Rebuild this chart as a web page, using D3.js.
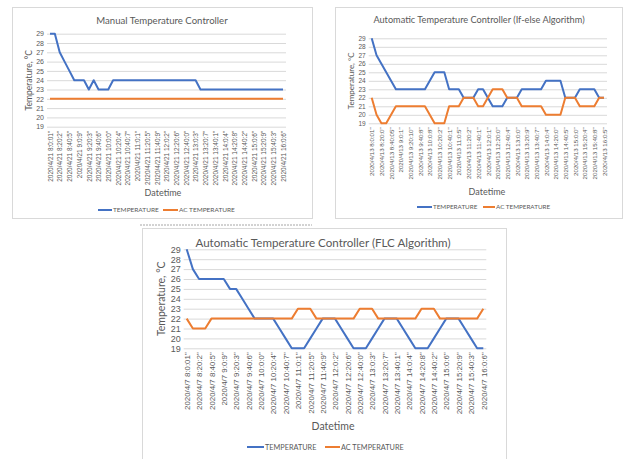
<!DOCTYPE html>
<html>
<head>
<meta charset="utf-8">
<script src="https://cdn.jsdelivr.net/npm/d3@7"></script>
<style>
  body { margin: 0; background: #fff; }
  svg { display: block; font-family: Lato, "Open Sans", sans-serif; }
  .axis text { fill: #595959; }
  .axis .domain { display: none; }
</style>
</head>
<body>
<svg id="chart" width="623" height="459"></svg>
<script>
// y range shared by all three charts
const yTicks = [19, 20, 21, 22, 23, 24, 25, 26, 27, 28, 29];

// manual controller, 2020/4/21
const manualLabels = [
  '2020/4/21 8:0:01"', '2020/4/21 8:20:2"', '2020/4/21 8:40:5"', '2020/4/21 9:0:9"',
  '2020/4/21 9:20:3"', '2020/4/21 9:40:6"', '2020/4/21 10:0:0"', '2020/4/21 10:20:4"',
  '2020/4/21 10:40:7"', '2020/4/21 11:0:1"', '2020/4/21 11:20:5"', '2020/4/21 11:40:9"',
  '2020/4/21 12:0:2"', '2020/4/21 12:20:6"', '2020/4/21 12:40:0"', '2020/4/21 13:0:3"',
  '2020/4/21 13:20:7"', '2020/4/21 13:40:1"', '2020/4/21 14:0:4"', '2020/4/21 14:20:8"',
  '2020/4/21 14:40:2"', '2020/4/21 15:0:6"', '2020/4/21 15:20:9"', '2020/4/21 15:40:3"',
  '2020/4/21 16:0:6"'
];
const manualTemp = [
  29, 29, 27, 26, 25, 24, 24, 24, 23, 24, 23, 23, 23, 24, 24, 24, 24,
  24, 24, 24, 24, 24, 24, 24, 24, 24, 24, 24, 24, 24, 24, 23, 23,
  23, 23, 23, 23, 23, 23, 23, 23, 23, 23, 23, 23, 23, 23, 23, 23
];
const manualAc = [
  22, 22, 22, 22, 22, 22, 22, 22, 22, 22, 22, 22, 22, 22, 22, 22, 22,
  22, 22, 22, 22, 22, 22, 22, 22, 22, 22, 22, 22, 22, 22, 22, 22,
  22, 22, 22, 22, 22, 22, 22, 22, 22, 22, 22, 22, 22, 22, 22, 22
];

// if-else controller, 2020/4/13
const ifelseLabels = [
  '2020/4/13 8:0:01"', '2020/4/13 8:20:0"', '2020/4/13 8:40:05"', '2020/4/13 9:0:1"',
  '2020/4/13 9:20:10"', '2020/4/13 9:40:8"', '2020/4/13 10:0:8"', '2020/4/13 10:20:2"',
  '2020/4/13 10:40:1"', '2020/4/13 11:0:5"', '2020/4/13 11:20:2"', '2020/4/13 11:40:1"',
  '2020/4/13 12:0:1"', '2020/4/13 12:20:0"', '2020/4/13 12:40:4"', '2020/4/13 13:0:0"',
  '2020/4/13 13:20:9"', '2020/4/13 13:40:7"', '2020/4/13 14:0:4"', '2020/4/13 14:20:0"',
  '2020/4/13 14:40:5"', '2020/4/13 15:0:0"', '2020/4/13 15:20:4"', '2020/4/13 15:40:8"',
  '2020/4/13 16:0:5"'
];
const ifelseTemp = [
  29, 27, 26, 25, 24, 23, 23, 23, 23, 23, 23, 23, 24, 25, 25, 25, 23,
  23, 23, 22, 22, 22, 23, 23, 22, 21, 21, 21, 22, 22, 22, 23, 23,
  23, 23, 23, 24, 24, 24, 24, 22, 22, 22, 23, 23, 23, 23, 22, 22
];
const ifelseAc = [
  22, 20, 19, 19, 20, 21, 21, 21, 21, 21, 21, 21, 20, 19, 19, 19, 21,
  21, 21, 22, 22, 22, 21, 21, 22, 23, 23, 23, 22, 22, 22, 21, 21,
  21, 21, 21, 20, 20, 20, 20, 22, 22, 22, 21, 21, 21, 21, 22, 22
];

// FLC controller, 2020/4/7
const flcLabels = [
  '2020/4/7 8:0:01"', '2020/4/7 8:20:2"', '2020/4/7 8:40:5"', '2020/4/7 9:0:9"',
  '2020/4/7 9:20:3"', '2020/4/7 9:40:6"', '2020/4/7 10:0:0"', '2020/4/7 10:20:4"',
  '2020/4/7 10:40:7"', '2020/4/7 11:0:1"', '2020/4/7 11:20:5"', '2020/4/7 11:40:9"',
  '2020/4/7 12:0:2"', '2020/4/7 12:20:6"', '2020/4/7 12:40:0"', '2020/4/7 13:0:3"',
  '2020/4/7 13:20:7"', '2020/4/7 13:40:1"', '2020/4/7 14:0:4"', '2020/4/7 14:20:8"',
  '2020/4/7 14:40:2"', '2020/4/7 15:0:6"', '2020/4/7 15:20:9"', '2020/4/7 15:40:3"',
  '2020/4/7 16:0:6"'
];
const flcTemp = [
  29, 27, 26, 26, 26, 26, 26, 25, 25, 24, 23, 22, 22, 22, 22, 21, 20,
  19, 19, 19, 20, 21, 22, 22, 22, 21, 20, 19, 19, 19, 20, 21, 22,
  22, 22, 21, 20, 19, 19, 19, 20, 21, 22, 22, 22, 21, 20, 19, 19
];
const flcAc = [
  22, 21, 21, 21, 22, 22, 22, 22, 22, 22, 22, 22, 22, 22, 22, 22, 22,
  22, 23, 23, 23, 22, 22, 22, 22, 22, 22, 22, 23, 23, 23, 22, 22,
  22, 22, 22, 22, 22, 23, 23, 23, 22, 22, 22, 22, 22, 22, 22, 23
];

const blue = "#4472c4";
const orange = "#ed7d31";
const svg = d3.select("#chart");

// page layout of the three panels
const charts = [
  {
    title: "Manual Temperature Controller", labels: manualLabels, temp: manualTemp, ac: manualAc,
    box: [12, 7, 300, 211], plot: { left: 50, right: 283, top: 33.7, bottom: 126.7 },
    titleX: 162, titleY: 24, titleSize: 9.6,
    tickSize: 7, yTitleX: 29, yTitleSize: 8.5, xLabelSize: 6.5,
    dtX: 163, dtY: 196, dtSize: 9, legY: 210, legSize: 6.5,
    leg: [98, 112, 163, 178]
  },
  {
    title: "Automatic Temperature Controller (If-else Algorithm)", labels: ifelseLabels, temp: ifelseTemp, ac: ifelseAc,
    box: [335, 7, 287, 211], plot: { left: 371.7, right: 604, top: 38.3, bottom: 123.3 },
    titleX: 479, titleY: 23, titleSize: 9.2,
    tickSize: 6.5, yTitleX: 351, yTitleSize: 8, xLabelSize: 6.2,
    dtX: 487, dtY: 195, dtSize: 9, legY: 207, legSize: 6.3,
    leg: [417, 432, 483, 495]
  },
  {
    title: "Automatic Temperature Controller (FLC Algorithm)", labels: flcLabels, temp: flcTemp, ac: flcAc,
    box: [142, 228, 364, 240], plot: { left: 186.7, right: 483.3, top: 249.3, bottom: 348.3 },
    titleX: 323, titleY: 247, titleSize: 11.6,
    tickSize: 9, yTitleX: 161, yTitleSize: 10.5, xLabelSize: 7.9,
    dtX: 333, dtY: 430, dtSize: 10.5, legY: 447, legSize: 7.3,
    leg: [247, 264, 325, 340]
  }
];

// dashed selection edge under the first panel
svg.append("line")
  .attr("x1", 140).attr("x2", 312).attr("y1", 225).attr("y2", 225)
  .attr("stroke", "#a6a6a6").attr("stroke-dasharray", "2,1");

charts.forEach((c) => {
  const g = svg.append("g");
  const p = c.plot;

  g.append("rect")
    .attr("x", c.box[0] + 0.5).attr("y", c.box[1] + 0.5)
    .attr("width", c.box[2]).attr("height", c.box[3])
    .attr("fill", "#fff").attr("stroke", "#d9d9d9");

  const x = d3.scalePoint().domain(d3.range(c.temp.length)).range([p.left, p.right]);
  const y = d3.scaleLinear().domain([19, 29]).range([p.bottom, p.top]);

  // gridlines
  g.append("g")
    .attr("class", "axis grid")
    .attr("transform", `translate(${p.left - 3},0)`)
    .call(d3.axisLeft(y).tickValues(yTicks).tickSize(-(p.right - p.left + 6)).tickFormat(""))
    .selectAll("line").attr("stroke", "#d9d9d9");

  // y axis labels
  g.append("g")
    .attr("class", "axis")
    .attr("transform", `translate(${p.left - 3},0)`)
    .call(d3.axisLeft(y).tickValues(yTicks).tickSize(0).tickPadding(3))
    .selectAll("text").style("font-size", c.tickSize + "px");

  // x axis: a label every second point
  const xAxis = g.append("g")
    .attr("class", "axis")
    .attr("transform", `translate(0,${p.bottom})`)
    .call(
      d3.axisBottom(x)
        .tickValues(d3.range(0, c.temp.length, 2))
        .tickSize(0)
        .tickFormat((i) => c.labels[i / 2])
    );
  xAxis.selectAll("text")
    .style("font-size", c.xLabelSize + "px")
    .attr("transform", "rotate(-90)")
    .attr("x", -4).attr("y", 0).attr("dy", "0.35em")
    .style("text-anchor", "end");

  const line = d3.line().x((d, i) => x(i)).y((d) => y(d));
  [[c.temp, blue], [c.ac, orange]].forEach(([vals, col]) => {
    g.append("path")
      .datum(vals)
      .attr("d", line)
      .attr("fill", "none")
      .attr("stroke", col)
      .attr("stroke-width", 2)
      .attr("stroke-linejoin", "round");
  });

  g.append("text")
    .attr("x", c.titleX).attr("y", c.titleY)
    .attr("text-anchor", "middle")
    .attr("fill", "#595959")
    .style("font-size", c.titleSize + "px")
    .text(c.title);

  g.append("text")
    .attr("transform", `translate(${c.yTitleX},${(p.top + p.bottom) / 2}) rotate(-90)`)
    .attr("text-anchor", "middle")
    .attr("dy", "0.35em")
    .attr("fill", "#595959")
    .style("font-size", c.yTitleSize + "px")
    .text("Temperature, °C");

  g.append("text")
    .attr("x", c.dtX).attr("y", c.dtY)
    .attr("text-anchor", "middle")
    .attr("fill", "#595959")
    .style("font-size", c.dtSize + "px")
    .text("Datetime");

  // legend
  const legItems = [["TEMPERATURE", blue, c.leg[0], c.leg[1]], ["AC TEMPERATURE", orange, c.leg[2], c.leg[3]]];
  legItems.forEach(([name, col, a, b]) => {
    g.append("line")
      .attr("x1", a).attr("x2", b).attr("y1", c.legY).attr("y2", c.legY)
      .attr("stroke", col).attr("stroke-width", 2);
    g.append("text")
      .attr("x", b + 1).attr("y", c.legY)
      .attr("dy", "0.35em")
      .attr("fill", "#595959")
      .style("font-size", c.legSize + "px")
      .text(name);
  });
});
</script>
</body>
</html>
